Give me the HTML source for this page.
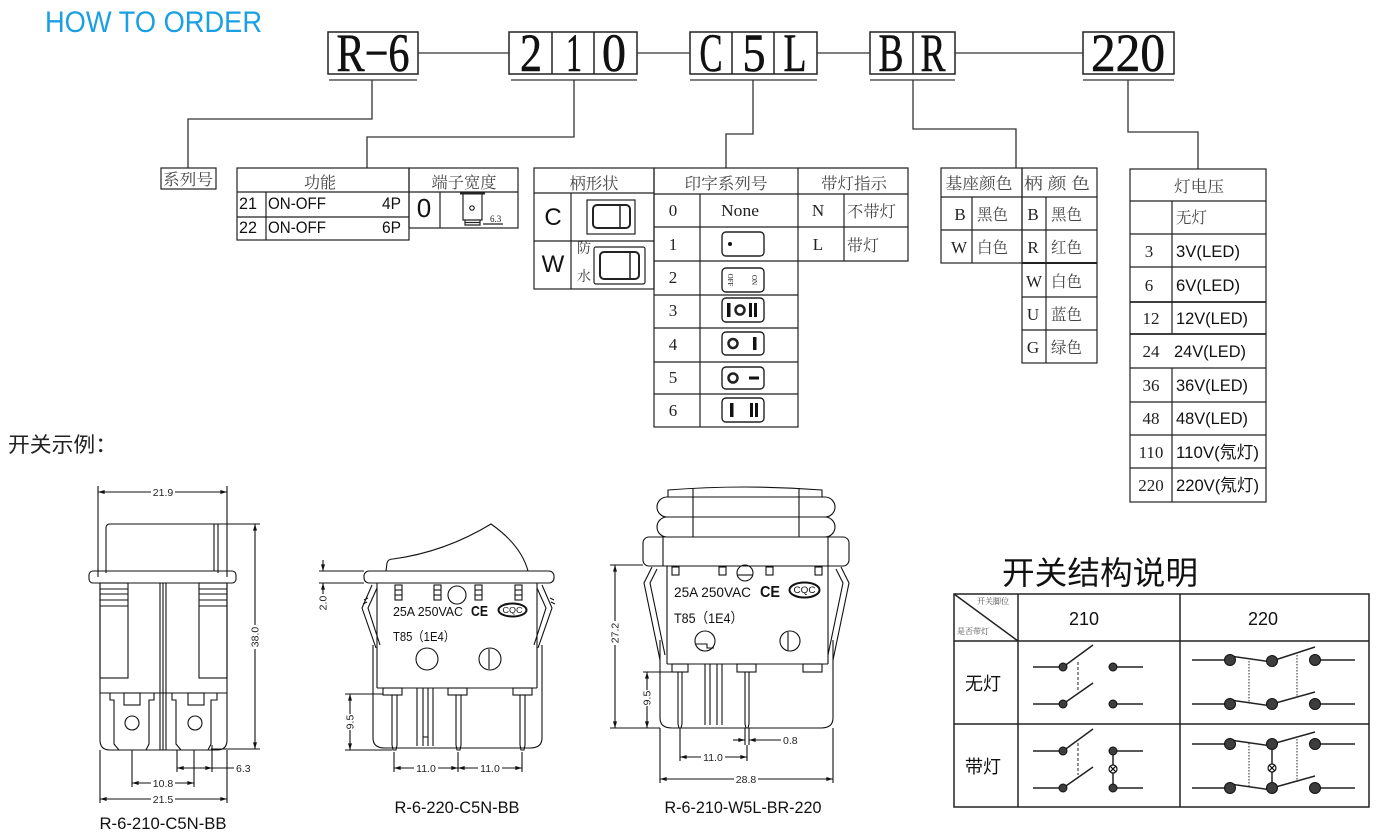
<!DOCTYPE html>
<html><head><meta charset="utf-8"><title>How to order</title>
<style>
html,body{margin:0;padding:0;background:#fff;overflow:hidden}
svg{display:block}
.s{font-family:"Liberation Sans","Noto Sans CJK SC",sans-serif}
.f{font-family:"Liberation Serif","Noto Serif CJK SC",serif}
.d{font-family:"Liberation Sans",sans-serif;font-size:10.5px;fill:#222}
.t{font-family:"Liberation Serif","Noto Serif CJK SC",serif;fill:#444}
</style></head><body>
<svg width="1385" height="837" viewBox="0 0 1385 837" xmlns="http://www.w3.org/2000/svg">
<defs>
<marker id="a" viewBox="0 0 10 6" refX="10" refY="3" markerWidth="7" markerHeight="4" markerUnits="userSpaceOnUse" orient="auto-start-reverse"><path d="M0 0L10 3L0 6z" fill="#111"/></marker>
</defs>
<rect width="1385" height="837" fill="#fff"/>

<!-- HEADER -->
<text x="45" y="32" class="s" font-size="30" fill="#1a9fe3" textLength="217" lengthAdjust="spacingAndGlyphs">HOW TO ORDER</text>

<g fill="none" stroke="#222" stroke-width="1.5">
<rect x="328" y="32" width="90" height="42"/>
<rect x="509" y="32" width="128" height="42"/>
<line x1="552" y1="32" x2="552" y2="74"/><line x1="594" y1="32" x2="594" y2="74"/>
<rect x="690" y="32" width="127" height="42"/>
<line x1="732" y1="32" x2="732" y2="74"/><line x1="774" y1="32" x2="774" y2="74"/>
<rect x="870" y="32" width="85" height="42"/>
<line x1="913" y1="32" x2="913" y2="74"/>
<rect x="1083" y="32" width="91" height="42"/>
</g>
<g stroke="#555" stroke-width="1.6">
<line x1="329" y1="80" x2="417" y2="80"/>
<line x1="511" y1="80" x2="637" y2="80"/>
<line x1="690" y1="80" x2="817" y2="80"/>
<line x1="870" y1="80" x2="955" y2="80"/>
<line x1="1083" y1="80" x2="1174" y2="80"/>
</g>
<g fill="none" stroke="#333" stroke-width="1.3">
<line x1="418" y1="53" x2="509" y2="53"/>
<line x1="637" y1="53" x2="690" y2="53"/>
<line x1="817" y1="53" x2="870" y2="53"/>
<line x1="955" y1="53" x2="1083" y2="53"/>
<path d="M372 80 V119 H188 V168"/>
<path d="M574 80 V137 H367 V168"/>
<path d="M753 80 V134 H726 V168"/>
<path d="M913 80 V129 H1016 V168"/>
<path d="M1128 80 V132 H1198 V169"/>
</g>
<g class="f" font-size="54" fill="#111" stroke="#111" stroke-width="0.6" text-anchor="middle">
<text x="373" y="71" textLength="73" lengthAdjust="spacingAndGlyphs">R−6</text>
<text x="531" y="71" textLength="22" lengthAdjust="spacingAndGlyphs">2</text>
<text x="574" y="71" textLength="16" lengthAdjust="spacingAndGlyphs">1</text>
<text x="614" y="71" textLength="24" lengthAdjust="spacingAndGlyphs">0</text>
<text x="711" y="71" textLength="23" lengthAdjust="spacingAndGlyphs">C</text>
<text x="754" y="71" textLength="23" lengthAdjust="spacingAndGlyphs">5</text>
<text x="795" y="71" textLength="23" lengthAdjust="spacingAndGlyphs">L</text>
<text x="891" y="71" textLength="25" lengthAdjust="spacingAndGlyphs">B</text>
<text x="933" y="71" textLength="25" lengthAdjust="spacingAndGlyphs">R</text>
<text x="1128" y="71" textLength="74" lengthAdjust="spacingAndGlyphs">220</text>
</g>

<!-- TABLES -->
<g fill="none" stroke="#222" stroke-width="1.2">
<rect x="161" y="168" width="55" height="21"/>
<rect x="237" y="168" width="172" height="72"/>
<line x1="237" y1="192" x2="409" y2="192"/>
<line x1="237" y1="217" x2="409" y2="217"/>
<line x1="266" y1="192" x2="266" y2="240"/>
<rect x="409" y="168" width="109" height="60"/>
<line x1="409" y1="192" x2="518" y2="192"/>
<line x1="440" y1="192" x2="440" y2="228"/>
<rect x="534" y="168" width="120" height="121"/>
<line x1="534" y1="193" x2="654" y2="193"/>
<line x1="534" y1="241" x2="654" y2="241"/>
<line x1="571" y1="193" x2="571" y2="289"/>
<rect x="654" y="168" width="144" height="259"/>
<line x1="654" y1="194" x2="908" y2="194"/>
<line x1="654" y1="227" x2="908" y2="227"/>
<line x1="654" y1="261" x2="798" y2="261"/>
<line x1="654" y1="295" x2="798" y2="295"/>
<line x1="654" y1="328" x2="798" y2="328"/>
<line x1="654" y1="362" x2="798" y2="362"/>
<line x1="654" y1="394" x2="798" y2="394"/>
<line x1="700" y1="194" x2="700" y2="427"/>
<path d="M798 168 H908 V261 H798"/>
<line x1="844" y1="194" x2="844" y2="261"/>
<rect x="941" y="168" width="81" height="95"/>
<line x1="941" y1="197" x2="1097" y2="197"/>
<line x1="941" y1="230" x2="1097" y2="230"/>
<line x1="972" y1="197" x2="972" y2="263"/>
<rect x="1022" y="168" width="75" height="195"/>
<line x1="1022" y1="263" x2="1097" y2="263" stroke-width="2"/>
<line x1="1022" y1="297" x2="1097" y2="297"/>
<line x1="1022" y1="330" x2="1097" y2="330"/>
<line x1="1046" y1="197" x2="1046" y2="363"/>
<rect x="1130" y="169" width="136" height="333"/>
<line x1="1130" y1="201" x2="1266" y2="201"/>
<line x1="1130" y1="234" x2="1266" y2="234"/>
<line x1="1130" y1="267" x2="1266" y2="267"/>
<line x1="1130" y1="302" x2="1266" y2="302" stroke-width="1.8"/>
<line x1="1130" y1="334" x2="1266" y2="334" stroke-width="1.8"/>
<line x1="1130" y1="368" x2="1266" y2="368"/>
<line x1="1130" y1="402" x2="1266" y2="402"/>
<line x1="1130" y1="435" x2="1266" y2="435"/>
<line x1="1130" y1="468" x2="1266" y2="468"/>
<line x1="1172" y1="201" x2="1172" y2="334"/>
<line x1="1172" y1="368" x2="1172" y2="502"/>
</g>

<g class="t" font-size="16">
<text x="188" y="185" text-anchor="middle" textLength="50" lengthAdjust="spacingAndGlyphs">系列号</text>
<text x="320" y="188" text-anchor="middle">功能</text>
<text x="464" y="188" text-anchor="middle" textLength="65" lengthAdjust="spacingAndGlyphs">端子宽度</text>
<text x="594" y="189" text-anchor="middle" textLength="49" lengthAdjust="spacingAndGlyphs">柄形状</text>
<text x="726" y="189" text-anchor="middle" textLength="83" lengthAdjust="spacingAndGlyphs">印字系列号</text>
<text x="854" y="189" text-anchor="middle" textLength="66" lengthAdjust="spacingAndGlyphs">带灯指示</text>
<text x="979" y="189" text-anchor="middle" textLength="67" lengthAdjust="spacingAndGlyphs">基座颜色</text>
<text x="1057" y="189" text-anchor="middle" textLength="66" lengthAdjust="spacingAndGlyphs">柄 颜 色</text>
<text x="1199" y="192" text-anchor="middle" textLength="50" lengthAdjust="spacingAndGlyphs">灯电压</text>
<text x="577" y="253" font-size="14">防</text>
<text x="577" y="281" font-size="14">水</text>
<text x="847" y="217" textLength="49" lengthAdjust="spacingAndGlyphs">不带灯</text>
<text x="847" y="251">带灯</text>
<text x="977" y="220" textLength="31" lengthAdjust="spacingAndGlyphs">黑色</text>
<text x="977" y="253" textLength="31" lengthAdjust="spacingAndGlyphs">白色</text>
<text x="1051" y="220" textLength="31" lengthAdjust="spacingAndGlyphs">黑色</text>
<text x="1051" y="253" textLength="31" lengthAdjust="spacingAndGlyphs">红色</text>
<text x="1051" y="287" textLength="31" lengthAdjust="spacingAndGlyphs">白色</text>
<text x="1051" y="320" textLength="31" lengthAdjust="spacingAndGlyphs">蓝色</text>
<text x="1051" y="353" textLength="31" lengthAdjust="spacingAndGlyphs">绿色</text>
<text x="1176" y="223" textLength="31" lengthAdjust="spacingAndGlyphs">无灯</text>
</g>
<g class="f" font-size="17" fill="#222" text-anchor="middle">
<text x="673" y="216">0</text>
<text x="673" y="250">1</text>
<text x="673" y="283">2</text>
<text x="673" y="316">3</text>
<text x="673" y="350">4</text>
<text x="673" y="383">5</text>
<text x="673" y="416">6</text>
<text x="740" y="216" textLength="38" lengthAdjust="spacingAndGlyphs">None</text>
<text x="818" y="216">N</text>
<text x="818" y="250">L</text>
<text x="960" y="220">B</text>
<text x="959" y="253">W</text>
<text x="1033" y="220">B</text>
<text x="1033" y="253">R</text>
<text x="1034" y="287">W</text>
<text x="1033" y="320">U</text>
<text x="1033" y="353">G</text>
<text x="1149" y="257">3</text>
<text x="1149" y="291">6</text>
<text x="1151" y="324">12</text>
<text x="1151" y="357">24</text>
<text x="1151" y="391">36</text>
<text x="1151" y="424">48</text>
<text x="1151" y="458">110</text>
<text x="1151" y="491">220</text>
</g>
<g class="s" font-size="17" fill="#111">
<text x="1176" y="257" textLength="64" lengthAdjust="spacingAndGlyphs">3V(LED)</text>
<text x="1176" y="291" textLength="64" lengthAdjust="spacingAndGlyphs">6V(LED)</text>
<text x="1176" y="324" textLength="72" lengthAdjust="spacingAndGlyphs">12V(LED)</text>
<text x="1174" y="357" textLength="72" lengthAdjust="spacingAndGlyphs">24V(LED)</text>
<text x="1176" y="391" textLength="72" lengthAdjust="spacingAndGlyphs">36V(LED)</text>
<text x="1176" y="424" textLength="72" lengthAdjust="spacingAndGlyphs">48V(LED)</text>
<text x="1176" y="458" textLength="83" lengthAdjust="spacingAndGlyphs">110V(氖灯)</text>
<text x="1176" y="491" textLength="83" lengthAdjust="spacingAndGlyphs">220V(氖灯)</text>
<text x="239" y="209" textLength="18" lengthAdjust="spacingAndGlyphs">21</text>
<text x="239" y="233" textLength="18" lengthAdjust="spacingAndGlyphs">22</text>
<text x="268" y="209" textLength="58" lengthAdjust="spacingAndGlyphs">ON-OFF</text>
<text x="268" y="233" textLength="58" lengthAdjust="spacingAndGlyphs">ON-OFF</text>
<text x="382" y="209" textLength="19" lengthAdjust="spacingAndGlyphs">4P</text>
<text x="382" y="233" textLength="19" lengthAdjust="spacingAndGlyphs">6P</text>
<text x="424" y="217" font-size="26" text-anchor="middle">0</text>
<text x="553" y="225" font-size="24" text-anchor="middle">C</text>
<text x="553" y="272" font-size="24" text-anchor="middle">W</text>
</g>

<g fill="none" stroke="#222" stroke-width="1.2">
<line x1="460" y1="193.5" x2="485" y2="193.5" stroke-width="2"/>
<path d="M463 194 V220 H482 V194"/>
<circle cx="472" cy="208" r="2.2"/>
<path d="M465 220 V225 H480 V220"/>
<line x1="465" y1="222.5" x2="480" y2="222.5"/>
<line x1="483" y1="224" x2="503" y2="224"/>
</g>
<text x="490" y="222" class="f" font-size="9" fill="#222">6.3</text>

<g fill="none" stroke="#222">
<rect x="587" y="200" width="48" height="34" stroke-width="1.2"/>
<rect x="593" y="205" width="37" height="23" rx="4" stroke-width="2"/>
<line x1="620" y1="206" x2="620" y2="227" stroke-width="1.5"/>
<rect x="594" y="247" width="51" height="37" rx="2" stroke-width="1.2"/>
<rect x="600" y="252" width="39" height="27" rx="4" stroke-width="2"/>
<line x1="630" y1="253" x2="630" y2="278" stroke-width="1.5"/>
</g>

<g fill="none" stroke="#222" stroke-width="1.4">
<rect x="722" y="232" width="42" height="24" rx="4"/>
<rect x="722" y="268" width="42" height="24" rx="4"/>
<rect x="722" y="298" width="42" height="24" rx="4"/>
<rect x="722" y="332" width="42" height="23" rx="4"/>
<rect x="722" y="367" width="42" height="22" rx="4"/>
<rect x="722" y="398" width="42" height="24" rx="4"/>
<circle cx="740" cy="310" r="4.5" stroke-width="2.5"/>
<circle cx="733" cy="343.5" r="4.5" stroke-width="2.5"/>
<circle cx="733" cy="378" r="4.5" stroke-width="2.5"/>
</g>
<g fill="#111">
<circle cx="730" cy="244" r="2"/>
<rect x="727" y="303" width="3.5" height="14"/>
<rect x="749" y="303" width="3" height="14"/>
<rect x="754" y="303" width="3" height="14"/>
<rect x="753" y="337" width="3.5" height="13"/>
<rect x="749" y="376.5" width="10" height="3"/>
<rect x="730" y="403" width="3.5" height="14"/>
<rect x="750" y="403" width="3" height="14"/>
<rect x="755" y="403" width="3" height="14"/>
</g>
<g class="f" font-size="7" fill="#222" text-anchor="middle">
<text x="730" y="282" transform="rotate(90 730 280)">OFF</text>
<text x="754" y="282" transform="rotate(90 754 280)">ON</text>
</g>

<text x="8" y="452" class="s" font-size="21" fill="#222" textLength="109" lengthAdjust="spacingAndGlyphs">开关示例：</text>

<!-- DRAWING 1 -->
<g fill="none" stroke="#111" stroke-width="1.1">
<line x1="98" y1="486" x2="98" y2="577"/>
<line x1="227" y1="486" x2="227" y2="577"/>
<line x1="98" y1="492" x2="227" y2="492" marker-start="url(#a)" marker-end="url(#a)"/>
<path d="M106 573 V528 Q106 524 110 524 H218 V573"/>
<line x1="214" y1="524" x2="214" y2="571"/>
<rect x="89" y="571" width="147" height="12" rx="4"/>
<path d="M100 583 V740 Q100 750 110 750 H217 Q227 750 227 740 V583"/>
<rect x="100" y="583" width="28" height="95"/>
<rect x="199" y="583" width="28" height="95"/>
<line x1="100" y1="589" x2="128" y2="589"/>
<line x1="100" y1="594" x2="128" y2="594"/>
<line x1="100" y1="600" x2="128" y2="600"/>
<line x1="100" y1="606" x2="128" y2="606"/>
<line x1="199" y1="589" x2="227" y2="589"/>
<line x1="199" y1="594" x2="227" y2="594"/>
<line x1="199" y1="600" x2="227" y2="600"/>
<line x1="199" y1="606" x2="227" y2="606"/>
<line x1="160" y1="583" x2="160" y2="750"/>
<line x1="163" y1="583" x2="163" y2="750"/>
<line x1="166" y1="583" x2="166" y2="750"/>
<line x1="100" y1="693" x2="227" y2="693"/>
<path d="M110 693 V700 H114 V744 L119 750 H146 L149 744 V700 H154 V693"/>
<rect x="124" y="693" width="16" height="12"/>
<circle cx="132" cy="723" r="7"/>
<path d="M172 693 V700 H176 V744 L181 750 H208 L211 744 V700 H217 V693"/>
<rect x="188" y="693" width="16" height="12"/>
<circle cx="195" cy="723" r="7"/>
<line x1="218" y1="524" x2="260" y2="524"/>
<line x1="211" y1="749" x2="260" y2="749"/>
<line x1="255" y1="524" x2="255" y2="749" marker-start="url(#a)" marker-end="url(#a)"/>
<line x1="177" y1="750" x2="177" y2="772"/>
<line x1="212" y1="745" x2="212" y2="772"/>
<line x1="177" y1="768" x2="212" y2="768" marker-start="url(#a)" marker-end="url(#a)"/>
<line x1="212" y1="768" x2="234" y2="768"/>
<line x1="132" y1="750" x2="132" y2="787"/>
<line x1="194" y1="750" x2="194" y2="787"/>
<line x1="132" y1="783" x2="194" y2="783" marker-start="url(#a)" marker-end="url(#a)"/>
<line x1="100" y1="750" x2="100" y2="803"/>
<line x1="227" y1="750" x2="227" y2="803"/>
<line x1="100" y1="799" x2="227" y2="799" marker-start="url(#a)" marker-end="url(#a)"/>
</g>
<g fill="#fff">
<rect x="151" y="487" width="24" height="11"/>
<rect x="151" y="778" width="24" height="11"/>
<rect x="151" y="794" width="24" height="11"/>
<rect x="243" y="631" width="24" height="12" transform="rotate(-90 255 637)"/>
</g>
<text class="d" x="163" y="496" text-anchor="middle">21.9</text>
<text class="d" x="255" y="640.5" text-anchor="middle" transform="rotate(-90 255 637)">38.0</text>
<text class="d" x="236" y="772">6.3</text>
<text class="d" x="163" y="787" text-anchor="middle">10.8</text>
<text class="d" x="163" y="803" text-anchor="middle">21.5</text>
<text x="163" y="829" class="s" font-size="16.5" fill="#111" text-anchor="middle" textLength="127" lengthAdjust="spacingAndGlyphs">R-6-210-C5N-BB</text>

<!-- DRAWING 2 -->
<g fill="none" stroke="#111" stroke-width="1.1">
<path d="M386 571 L387 563 Q388 559 393 559 Q445 552 491 524 Q521 545 528 571"/>
<rect x="364" y="571" width="190" height="12" rx="5"/>
<line x1="377" y1="583" x2="377" y2="688"/>
<line x1="537" y1="583" x2="537" y2="688"/>
<line x1="377" y1="688" x2="537" y2="688"/>
<path d="M373 645 V738 Q373 748 385 748 H530 Q542 748 542 738 V645"/>
<path d="M372 585 L362 608 L376 648 M377 588 L368 608 L380 645"/>
<path d="M542 585 L552 608 L538 648 M537 588 L546 608 L534 645"/>
<path d="M364 600 L368 598 M363 604 L367 602 M550 598 L554 600 M551 602 L555 604"/>
<rect x="395" y="585" width="7" height="15"/><line x1="395" y1="590" x2="402" y2="590"/><line x1="395" y1="595" x2="402" y2="595"/>
<rect x="434" y="585" width="7" height="15"/><line x1="434" y1="590" x2="441" y2="590"/><line x1="434" y1="595" x2="441" y2="595"/>
<rect x="475" y="585" width="7" height="15"/><line x1="475" y1="590" x2="482" y2="590"/><line x1="475" y1="595" x2="482" y2="595"/>
<rect x="515" y="585" width="7" height="15"/><line x1="515" y1="590" x2="522" y2="590"/><line x1="515" y1="595" x2="522" y2="595"/>
<circle cx="457" cy="595" r="9"/>
<circle cx="427" cy="659" r="11"/>
<circle cx="490" cy="659" r="11"/>
<line x1="489" y1="649" x2="489" y2="669"/>
<rect x="383" y="688" width="19" height="7"/>
<rect x="448" y="688" width="19" height="7"/>
<rect x="513" y="688" width="19" height="7"/>
<path d="M392 695 V745 L393 750 H396 L397 745 V695"/>
<path d="M456 695 V745 L457 750 H460 L461 745 V695"/>
<path d="M520 695 V745 L521 750 H524 L525 745 V695"/>
<line x1="417" y1="688" x2="417" y2="746"/>
<line x1="423" y1="688" x2="423" y2="746"/>
<line x1="428" y1="688" x2="428" y2="746"/>
<line x1="433" y1="688" x2="433" y2="746"/>
<line x1="423" y1="737" x2="428" y2="737"/>
<line x1="345" y1="694" x2="383" y2="694"/>
<line x1="345" y1="750" x2="392" y2="750"/>
<line x1="350" y1="694" x2="350" y2="750" marker-start="url(#a)" marker-end="url(#a)"/>
<line x1="319" y1="571" x2="364" y2="571"/>
<line x1="319" y1="583" x2="364" y2="583"/>
<line x1="323" y1="560" x2="323" y2="571" marker-end="url(#a)"/>
<line x1="323" y1="594" x2="323" y2="583" marker-end="url(#a)"/>
<line x1="394" y1="752" x2="394" y2="772"/>
<line x1="458" y1="752" x2="458" y2="772"/>
<line x1="522" y1="752" x2="522" y2="772"/>
<line x1="394" y1="768" x2="458" y2="768" marker-start="url(#a)" marker-end="url(#a)"/>
<line x1="458" y1="768" x2="522" y2="768" marker-start="url(#a)" marker-end="url(#a)"/>
<ellipse cx="512.5" cy="610" rx="14" ry="6.5" stroke-width="2"/>
</g>
<text x="393" y="616" class="s" font-size="13" fill="#111" textLength="70" lengthAdjust="spacingAndGlyphs">25A 250VAC</text>
<text x="471" y="616" class="s" font-size="15" font-weight="bold" fill="#111" textLength="17" lengthAdjust="spacingAndGlyphs">CE</text>
<text x="512.5" y="613" class="s" font-size="8" fill="#111" text-anchor="middle" textLength="20" lengthAdjust="spacingAndGlyphs">CQC</text>
<text x="393" y="641" class="s" font-size="13" fill="#111" textLength="62" lengthAdjust="spacingAndGlyphs">T85（1E4）</text>
<g fill="#fff">
<rect x="342" y="716" width="16" height="12" transform="rotate(-90 350 722)"/>
<rect x="414" y="763" width="24" height="11"/>
<rect x="478" y="763" width="24" height="11"/>
</g>
<text class="d" x="350" y="725.5" text-anchor="middle" transform="rotate(-90 350 722)">9.5</text>
<text class="d" x="323" y="606.5" text-anchor="middle" transform="rotate(-90 323 603)">2.0</text>
<text class="d" x="426" y="772" text-anchor="middle">11.0</text>
<text class="d" x="490" y="772" text-anchor="middle">11.0</text>
<text x="457" y="813" class="s" font-size="16.5" fill="#111" text-anchor="middle" textLength="125" lengthAdjust="spacingAndGlyphs">R-6-220-C5N-BB</text>

<!-- DRAWING 3 -->
<g fill="none" stroke="#111" stroke-width="1.1">
<path d="M668 497 V490 Q745 484 822 490 V497"/>
<rect x="657" y="497" width="178" height="20" rx="10"/>
<rect x="657" y="517" width="178" height="20" rx="10"/>
<line x1="693" y1="488" x2="693" y2="537"/>
<line x1="799" y1="488" x2="799" y2="537"/>
<rect x="643" y="537" width="206" height="29" rx="6"/>
<line x1="663" y1="537" x2="663" y2="566"/>
<line x1="828" y1="537" x2="828" y2="566"/>
<line x1="667" y1="566" x2="667" y2="664"/>
<line x1="828" y1="566" x2="828" y2="664"/>
<line x1="667" y1="664" x2="828" y2="664"/>
<path d="M660 640 V718 Q660 728 672 728 H821 Q833 728 833 718 V640"/>
<path d="M652 567 L644 583 L660 660 M657 569 L650 583 L665 655"/>
<path d="M841 567 L849 583 L833 660 M836 569 L843 583 L828 655"/>
<rect x="672" y="567" width="7" height="8"/>
<rect x="719" y="567" width="7" height="8"/>
<rect x="766" y="567" width="7" height="8"/>
<rect x="815" y="567" width="7" height="8"/>
<circle cx="745" cy="573" r="8"/>
<line x1="737" y1="575" x2="753" y2="575"/>
<circle cx="705" cy="641" r="10"/>
<path d="M696 644 H707 V648 H714"/>
<circle cx="790" cy="641" r="10"/>
<line x1="788" y1="632" x2="788" y2="650"/>
<rect x="672" y="664" width="16" height="8"/>
<rect x="737" y="664" width="19" height="8"/>
<rect x="803" y="664" width="19" height="8"/>
<path d="M678 672 V724 L679 728 H681 L682 724 V672"/>
<path d="M745 672 V724 L746 728 H748 L749 724 V672"/>
<line x1="705" y1="664" x2="705" y2="725"/>
<line x1="710" y1="664" x2="710" y2="725"/>
<line x1="717" y1="664" x2="717" y2="725"/>
<line x1="722" y1="664" x2="722" y2="725"/>
<line x1="610" y1="565" x2="643" y2="565"/>
<line x1="610" y1="728" x2="660" y2="728"/>
<line x1="615" y1="565" x2="615" y2="728" marker-start="url(#a)" marker-end="url(#a)"/>
<line x1="643" y1="672" x2="676" y2="672"/>
<line x1="647" y1="672" x2="647" y2="728" marker-start="url(#a)" marker-end="url(#a)"/>
<line x1="745" y1="728" x2="745" y2="745"/>
<line x1="749" y1="728" x2="749" y2="745"/>
<line x1="733" y1="740" x2="745" y2="740" marker-end="url(#a)"/>
<line x1="781" y1="740" x2="749" y2="740" marker-end="url(#a)"/>
<line x1="680" y1="728" x2="680" y2="761"/>
<line x1="747" y1="745" x2="747" y2="761"/>
<line x1="680" y1="757" x2="747" y2="757" marker-start="url(#a)" marker-end="url(#a)"/>
<line x1="660" y1="728" x2="660" y2="783"/>
<line x1="833" y1="728" x2="833" y2="783"/>
<line x1="660" y1="779" x2="833" y2="779" marker-start="url(#a)" marker-end="url(#a)"/>
<ellipse cx="804.5" cy="590" rx="15" ry="7.5" stroke-width="2"/>
</g>
<text x="674" y="597" class="s" font-size="14" fill="#111" textLength="77" lengthAdjust="spacingAndGlyphs">25A 250VAC</text>
<text x="760" y="597" class="s" font-size="16" font-weight="bold" fill="#111" textLength="20" lengthAdjust="spacingAndGlyphs">CE</text>
<text x="804.5" y="593" class="s" font-size="9" fill="#111" text-anchor="middle" textLength="22" lengthAdjust="spacingAndGlyphs">CQC</text>
<text x="674" y="623" class="s" font-size="14" fill="#111" textLength="69" lengthAdjust="spacingAndGlyphs">T85（1E4）</text>
<g fill="#fff">
<rect x="603" y="627" width="24" height="12" transform="rotate(-90 615 633)"/>
<rect x="639" y="692" width="16" height="12" transform="rotate(-90 647 698)"/>
<rect x="701" y="752" width="24" height="11"/>
<rect x="734" y="774" width="24" height="11"/>
</g>
<text class="d" x="615" y="636.5" text-anchor="middle" transform="rotate(-90 615 633)">27.2</text>
<text class="d" x="647" y="701.5" text-anchor="middle" transform="rotate(-90 647 698)">9.5</text>
<text class="d" x="783" y="744">0.8</text>
<text class="d" x="713" y="761" text-anchor="middle">11.0</text>
<text class="d" x="746" y="783" text-anchor="middle">28.8</text>
<text x="743" y="813" class="s" font-size="16.5" fill="#111" text-anchor="middle" textLength="157" lengthAdjust="spacingAndGlyphs">R-6-210-W5L-BR-220</text>

<!-- SWITCH STRUCTURE -->
<text x="1002" y="584" class="s" font-size="32" fill="#111" textLength="196" lengthAdjust="spacingAndGlyphs">开关结构说明</text>
<g fill="none" stroke="#222" stroke-width="1.5">
<rect x="954" y="594" width="415" height="213"/>
<line x1="954" y1="641" x2="1369" y2="641"/>
<line x1="954" y1="724" x2="1369" y2="724"/>
<line x1="1018" y1="594" x2="1018" y2="807"/>
<line x1="1180" y1="594" x2="1180" y2="807"/>
<line x1="954" y1="594" x2="1018" y2="641"/>
</g>
<g class="f" font-size="8" fill="#444">
<text x="977" y="604">开关脚位</text>
<text x="957" y="634">是否带灯</text>
</g>
<g class="s" font-size="18" fill="#111" text-anchor="middle">
<text x="1084" y="625">210</text>
<text x="1263" y="625">220</text>
<text x="983" y="690">无灯</text>
<text x="983" y="773">带灯</text>
</g>
<g stroke="#222" stroke-width="1.5" fill="none">
<line x1="1033" y1="667" x2="1063" y2="667"/><line x1="1063" y1="667" x2="1093" y2="645"/>
<line x1="1113" y1="667" x2="1143" y2="667"/>
<line x1="1033" y1="704" x2="1063" y2="704"/><line x1="1063" y1="704" x2="1093" y2="683"/>
<line x1="1113" y1="704" x2="1143" y2="704"/>
<line x1="1078" y1="662" x2="1078" y2="692" stroke-dasharray="3 2" stroke-width="1"/>
<line x1="1033" y1="751" x2="1063" y2="751"/><line x1="1063" y1="751" x2="1093" y2="729"/>
<line x1="1113" y1="751" x2="1143" y2="751"/>
<line x1="1033" y1="788" x2="1063" y2="788"/><line x1="1063" y1="788" x2="1093" y2="767"/>
<line x1="1113" y1="788" x2="1143" y2="788"/>
<line x1="1113" y1="751" x2="1113" y2="788"/>
<line x1="1078" y1="743" x2="1078" y2="775" stroke-dasharray="3 2" stroke-width="1"/>
<line x1="1192" y1="660" x2="1230" y2="660"/>
<line x1="1230" y1="656" x2="1272" y2="662"/>
<line x1="1272" y1="661" x2="1315" y2="647"/>
<line x1="1315" y1="660" x2="1355" y2="660"/>
<line x1="1192" y1="704" x2="1230" y2="704"/>
<line x1="1230" y1="700" x2="1272" y2="706"/>
<line x1="1272" y1="704" x2="1315" y2="692"/>
<line x1="1315" y1="704" x2="1355" y2="704"/>
<line x1="1249" y1="658" x2="1249" y2="702" stroke-dasharray="1.5 1.5" stroke-width="1"/>
<line x1="1297" y1="655" x2="1297" y2="697" stroke-dasharray="1.5 1.5" stroke-width="1"/>
<line x1="1192" y1="744" x2="1230" y2="744"/>
<line x1="1230" y1="740" x2="1272" y2="746"/>
<line x1="1272" y1="744" x2="1315" y2="732"/>
<line x1="1315" y1="744" x2="1355" y2="744"/>
<line x1="1192" y1="788" x2="1230" y2="788"/>
<line x1="1230" y1="784" x2="1272" y2="790"/>
<line x1="1272" y1="788" x2="1315" y2="776"/>
<line x1="1315" y1="788" x2="1355" y2="788"/>
<line x1="1272" y1="744" x2="1272" y2="788"/>
<line x1="1249" y1="743" x2="1249" y2="787" stroke-dasharray="1.5 1.5" stroke-width="1"/>
<line x1="1297" y1="739" x2="1297" y2="782" stroke-dasharray="1.5 1.5" stroke-width="1"/>
</g>
<g fill="#3d3d3d" stroke="#111" stroke-width="1">
<circle cx="1063" cy="667" r="4"/><circle cx="1113" cy="667" r="4"/>
<circle cx="1063" cy="704" r="4"/><circle cx="1113" cy="704" r="4"/>
<circle cx="1063" cy="751" r="4"/><circle cx="1113" cy="751" r="4"/>
<circle cx="1063" cy="788" r="4"/><circle cx="1113" cy="788" r="4"/>
<circle cx="1230" cy="660" r="5.5"/><circle cx="1272" cy="661" r="5.5"/><circle cx="1315" cy="660" r="5.5"/>
<circle cx="1230" cy="704" r="5.5"/><circle cx="1272" cy="704" r="5.5"/><circle cx="1315" cy="704" r="5.5"/>
<circle cx="1230" cy="744" r="5.5"/><circle cx="1272" cy="744" r="5.5"/><circle cx="1315" cy="744" r="5.5"/>
<circle cx="1230" cy="788" r="5.5"/><circle cx="1272" cy="788" r="5.5"/><circle cx="1315" cy="788" r="5.5"/>
</g>
<g fill="#fff" stroke="#111" stroke-width="1.2">
<circle cx="1113" cy="769" r="4"/>
<circle cx="1272" cy="768" r="4"/>
<path d="M1110.2 766.2 L1115.8 771.8 M1115.8 766.2 L1110.2 771.8 M1269.2 765.2 L1274.8 770.8 M1274.8 765.2 L1269.2 770.8" fill="none"/>
</g>
</svg>
</body></html>
